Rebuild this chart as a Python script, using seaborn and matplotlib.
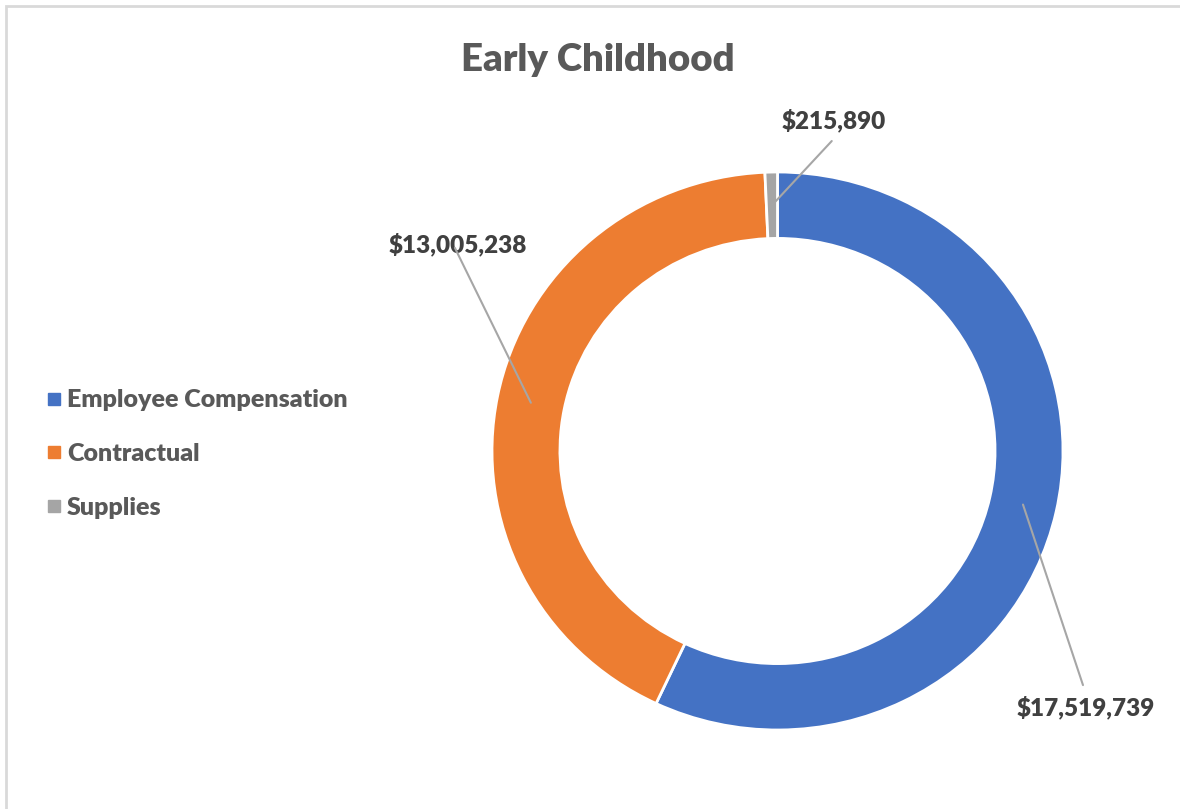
import numpy as np
import matplotlib
matplotlib.use("Agg")
import matplotlib.pyplot as plt
from matplotlib.patches import Rectangle
from matplotlib.lines import Line2D
import seaborn as sns

# Early Childhood spending by category
categories = ["Employee Compensation", "Contractual", "Supplies"]
amounts = [17519739, 13005238, 215890]
colors = ["#4472C4", "#ED7D31", "#A5A5A5"]

# label anchor points (axes data units) for each category
label_xy = [(1.079, -0.918), (-1.119, 0.742), (0.198, 1.183)]
leader_start = [(1.07, -0.839), (-1.13, 0.728), (0.19, 1.111)]

sns.set_theme(style="white")
plt.rcParams["font.family"] = ["Lato", "DejaVu Sans"]
WEIGHT = 800

fig = plt.figure(figsize=(11.8, 8.09), dpi=100)
fig.patch.set_facecolor("white")

# thin frame around the chart area
fig.add_artist(Rectangle((6 / 1180, -0.1), 1.2, 1.1 - 6 / 809,
                         transform=fig.transFigure, fill=False,
                         edgecolor="#D9D9D9", linewidth=2))

ax = fig.add_axes([492 / 1180, 79 / 809, 571 / 1180, 558 / 809])
ring_width = 0.238
wedges, _ = ax.pie(amounts, colors=colors, startangle=90, counterclock=False,
                   radius=1.0, wedgeprops=dict(width=ring_width, edgecolor="white",
                                               linewidth=2))
ax.set_aspect("auto")
ax.set_xlim(-1, 1)
ax.set_ylim(-1, 1)
ax.axis("off")

mid_r = 1 - ring_width / 2
for w, (lx, ly), (sx, sy), val in zip(wedges, label_xy, leader_start, amounts):
    ang = np.deg2rad((w.theta1 + w.theta2) / 2)
    ex, ey = mid_r * np.cos(ang), mid_r * np.sin(ang)
    ax.plot([sx, ex], [sy, ey], color="#A6A6A6", linewidth=1.5,
            clip_on=False, zorder=5)
    ax.text(lx, ly, f"${val:,}", ha="center", va="center", fontsize=17.5,
            fontweight=WEIGHT, color="#404040", clip_on=False)

fig.text(597.5 / 1180, 1 - 60 / 809, "Early Childhood", ha="center", va="center",
         fontsize=27.6, fontweight=WEIGHT, color="#595959")

handles = [Line2D([], [], marker="s", linestyle="none", markersize=8,
                  markerfacecolor=c, markeredgecolor=c) for c in colors]
fig.legend(handles, categories, loc="center left",
           bbox_to_anchor=(37 / 1180, 1 - 454 / 809), frameon=False,
           prop=dict(size=18, weight=WEIGHT), labelcolor="#595959",
           handlelength=0.57, handletextpad=0.22, labelspacing=1.27,
           borderaxespad=0)

fig.savefig("out.png", dpi=100, facecolor="white")
